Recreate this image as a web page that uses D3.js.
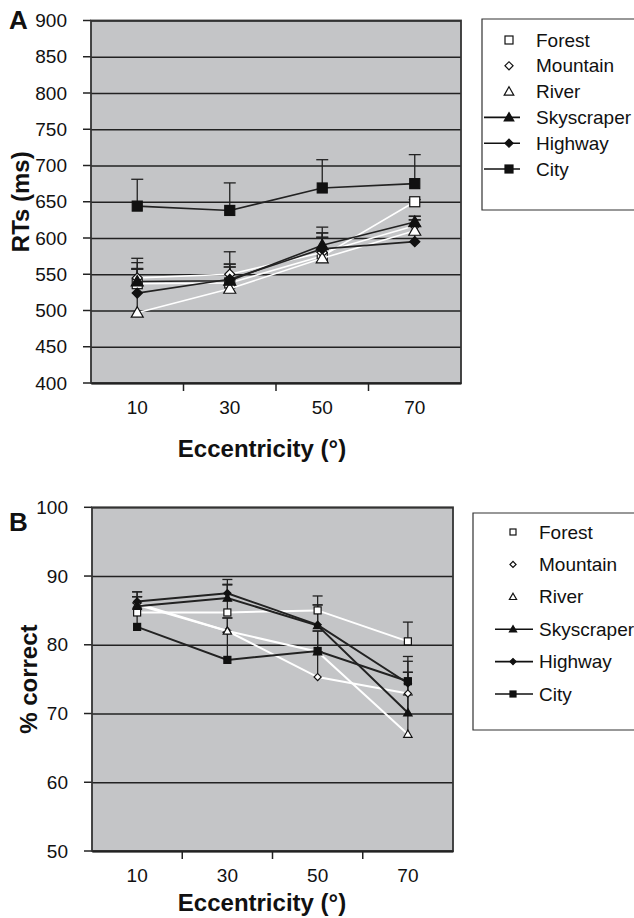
<!DOCTYPE html>
<html lang="en">
<head>
<meta charset="UTF-8">
<script src="https://d3js.org/d3.v7.min.js"></script>
<style>
  body { margin: 0; background: #fff; }
  svg text { font-family: "Liberation Sans", Arial, sans-serif; fill: #111; }
</style>
</head>
<body>
<div id="fig"></div>
<script>
// categories and series
var ecc = ["10", "30", "50", "70"];
var names = ["Forest", "Mountain", "River", "Skyscraper", "Highway", "City"];

// panel A: RTs (ms), mean and upper error
var rtForest     = [537, 538, 575, 650];
var rtMountain   = [545, 550, 580, 617];
var rtRiver      = [497, 530, 572, 610];
var rtSkyscraper = [540, 541, 590, 622];
var rtHighway    = [524, 543, 585, 595];
var rtCity       = [644, 638, 669, 675];
var rtErrForest     = [20, 26, 32, 3];
var rtErrMountain   = [21, 31, 35, 8];
var rtErrRiver      = [60, 30, 29, 20];
var rtErrSkyscraper = [32, 19, 17, 8];
var rtErrHighway    = [34, 21, 16, 30];
var rtErrCity       = [37, 38, 39, 40];
var rtTicks = [400, 450, 500, 550, 600, 650, 700, 750, 800, 850, 900];

// panel B: % correct, mean and upper error
var pcForest     = [84.7, 84.7, 85.0, 80.5];
var pcMountain   = [86.0, 82.0, 75.3, 72.9];
var pcRiver      = [85.8, 82.0, 79.0, 67.0];
var pcSkyscraper = [85.6, 86.8, 82.8, 70.1];
var pcHighway    = [86.3, 87.5, 82.9, 74.4];
var pcCity       = [82.6, 77.8, 79.1, 74.7];
var pcErrForest     = [2.3, 4.0, 2.1, 2.8];
var pcErrMountain   = [1.7, 1.9, 3.7, 3.1];
var pcErrRiver      = [1.2, 1.9, 3.0, 5.7];
var pcErrSkyscraper = [1.4, 2.0, 3.0, 5.9];
var pcErrHighway    = [1.4, 2.0, 2.9, 3.2];
var pcErrCity       = [3.5, 4.0, 2.9, 3.6];
var pcTicks = [50, 60, 70, 80, 90, 100];

var isWhite = {Forest: true, Mountain: true, River: true};
var shapes = {Forest: "square", Mountain: "diamond", River: "triangle",
              Skyscraper: "triangle", Highway: "diamond", City: "square"};

var svg = d3.select("#fig").append("svg")
  .attr("width", 634).attr("height", 918);

function marker(g, name, size) {
  var s = shapes[name];
  var p;
  if (s == "square") p = g.append("rect").attr("x", -size/2).attr("y", -size/2).attr("width", size).attr("height", size);
  else if (s == "diamond") p = g.append("rect").attr("x", -size*0.36).attr("y", -size*0.36).attr("width", size*0.72).attr("height", size*0.72).attr("transform", "rotate(45)");
  else p = g.append("path").attr("d", "M0," + (-size*0.6) + "L" + (size*0.6) + "," + (size*0.45) + "L" + (-size*0.6) + "," + (size*0.45) + "Z");
  p.attr("fill", isWhite[name] ? "#fff" : "#111").attr("stroke", "#111").attr("stroke-width", 1.2);
}

function panel(opt) {
  var x = d3.scaleBand().domain(ecc).range([opt.left, opt.right]);
  var y = d3.scaleLinear().domain(opt.domain).range([opt.bottom, opt.top]);
  var g = svg.append("g");

  g.append("rect")
    .attr("x", opt.left).attr("y", opt.top)
    .attr("width", opt.right - opt.left).attr("height", opt.bottom - opt.top)
    .attr("fill", "#c4c5c7");

  // grid lines + y axis
  var ya = g.append("g").attr("transform", "translate(" + opt.left + ",0)")
    .call(d3.axisLeft(y).tickValues(opt.ticks).tickSizeInner(-(opt.right - opt.left)).tickSizeOuter(0).tickPadding(24));
  ya.select(".domain").remove();
  ya.selectAll(".tick line").attr("stroke", "#222").attr("stroke-width", 1.5);
  ya.selectAll(".tick text").attr("font-size", 19).attr("fill", "#111");
  // outward y ticks
  g.selectAll(".ytk").data(opt.ticks).enter().append("line")
    .attr("x1", opt.left - 8).attr("x2", opt.left)
    .attr("y1", function(d) { return y(d); }).attr("y2", function(d) { return y(d); })
    .attr("stroke", "#222").attr("stroke-width", 1.5);

  g.append("rect")
    .attr("x", opt.left).attr("y", opt.top)
    .attr("width", opt.right - opt.left).attr("height", opt.bottom - opt.top)
    .attr("fill", "none").attr("stroke", "#333").attr("stroke-width", 1.8);

  var xa = g.append("g").attr("transform", "translate(0," + opt.bottom + ")")
    .call(d3.axisBottom(x).tickSize(0).tickPadding(18));
  xa.select(".domain").attr("stroke", "#222").attr("stroke-width", 2);
  xa.selectAll(".tick text").attr("font-size", 19).attr("fill", "#111");
  // category separators
  g.selectAll(".xtk").data(ecc.slice(1)).enter().append("line")
    .attr("x1", function(d) { return x(d); }).attr("x2", function(d) { return x(d); })
    .attr("y1", opt.bottom).attr("y2", opt.bottom + 8)
    .attr("stroke", "#222").attr("stroke-width", 1.5);

  var cx = function(i) { return x(ecc[i]) + x.bandwidth() / 2; };

  // error bars
  opt.series.forEach(function(s) {
    s.vals.forEach(function(v, i) {
      var yt = y(v + s.err[i]);
      g.append("line").attr("x1", cx(i)).attr("x2", cx(i)).attr("y1", y(v)).attr("y2", yt)
        .attr("stroke", "#222").attr("stroke-width", 1.3);
      g.append("line").attr("x1", cx(i) - opt.cap).attr("x2", cx(i) + opt.cap).attr("y1", yt).attr("y2", yt)
        .attr("stroke", "#222").attr("stroke-width", 1.3);
    });
  });

  var line = d3.line().x(function(d, i) { return cx(i); }).y(function(d) { return y(d); });
  opt.series.forEach(function(s) {
    g.append("path").datum(s.vals).attr("d", line)
      .attr("fill", "none")
      .attr("stroke", isWhite[s.name] ? "#fff" : "#222")
      .attr("stroke-width", opt.lw);
    s.vals.forEach(function(v, i) {
      var m = g.append("g").attr("transform", "translate(" + cx(i) + "," + y(v) + ")");
      marker(m, s.name, opt.ms);
    });
  });

  // titles
  g.append("text").attr("x", opt.xtitleX).attr("y", opt.xtitleY)
    .attr("text-anchor", "middle").attr("font-weight", "bold").attr("font-size", 24)
    .text("Eccentricity (\u00b0)");
  g.append("text")
    .attr("transform", "translate(" + opt.ytitleX + "," + (opt.top + opt.bottom) / 2 + ") rotate(-90)")
    .attr("text-anchor", "middle").attr("font-weight", "bold").attr("font-size", 24)
    .text(opt.ytitle);
  g.append("text").attr("x", 9).attr("y", opt.letterY)
    .attr("font-weight", "bold").attr("font-size", 26).text(opt.letter);

  // legend
  var L = opt.legend;
  g.append("path")
    .attr("d", "M634," + L.top + "H" + L.left + "V" + L.bottom + "H634")
    .attr("fill", "#fff").attr("stroke", "#333").attr("stroke-width", 1.2);
  names.forEach(function(n, i) {
    var ly = L.first + i * L.step;
    if (!isWhite[n]) {
      g.append("line").attr("x1", L.lx1).attr("x2", L.lx2).attr("y1", ly).attr("y2", ly)
        .attr("stroke", "#111").attr("stroke-width", 1.6);
    }
    var m = g.append("g").attr("transform", "translate(" + L.sx + "," + ly + ")");
    marker(m, n, L.ms);
    g.append("text").attr("x", L.tx).attr("y", ly).attr("dy", "0.35em")
      .attr("font-size", 19).text(n);
  });
}

function mk(vals, errs) {
  return names.map(function(n, i) { return {name: n, vals: vals[i], err: errs[i]}; });
}

panel({
  left: 91, right: 461, top: 20.5, bottom: 383,
  domain: [400, 900], ticks: rtTicks,
  series: mk([rtForest, rtMountain, rtRiver, rtSkyscraper, rtHighway, rtCity],
             [rtErrForest, rtErrMountain, rtErrRiver, rtErrSkyscraper, rtErrHighway, rtErrCity]),
  cap: 6, lw: 1.6, ms: 10,
  xtitleX: 262, xtitleY: 457, ytitle: "RTs (ms)", ytitleX: 29, letter: "A", letterY: 29,
  legend: {left: 482, top: 19, bottom: 210, first: 40, step: 25.8,
           lx1: 484, lx2: 520, sx: 509, tx: 536, ms: 8}
});

panel({
  left: 92, right: 453, top: 507.3, bottom: 851,
  domain: [50, 100], ticks: pcTicks,
  series: mk([pcForest, pcMountain, pcRiver, pcSkyscraper, pcHighway, pcCity],
             [pcErrForest, pcErrMountain, pcErrRiver, pcErrSkyscraper, pcErrHighway, pcErrCity]),
  cap: 5, lw: 2, ms: 7,
  xtitleX: 262, xtitleY: 911, ytitle: "% correct", ytitleX: 37, letter: "B", letterY: 531,
  legend: {left: 473, top: 513, bottom: 730, first: 532, step: 32.4,
           lx1: 495, lx2: 533, sx: 513, tx: 539, ms: 6}
});
</script>
</body>
</html>
